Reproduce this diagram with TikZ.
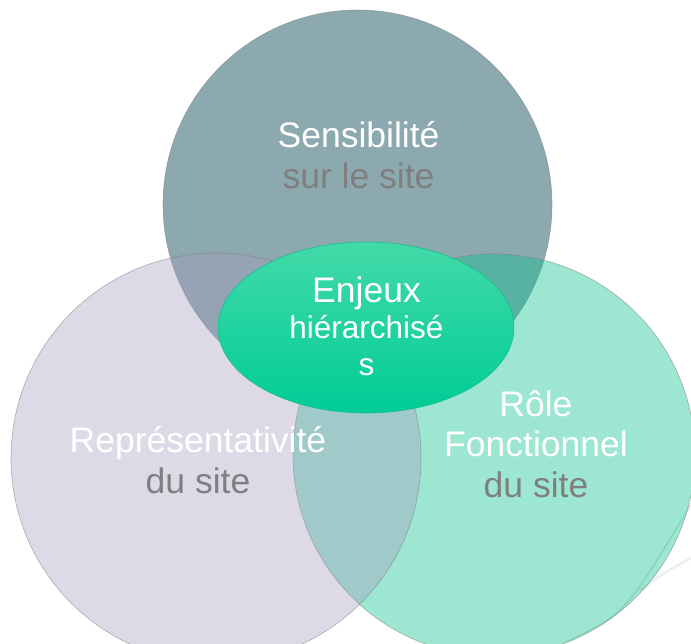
\documentclass[tikz,border=0pt]{standalone}
\usepackage{fontspec}
\setmainfont{Liberation Sans}
\usepackage{tikz}
\usetikzlibrary{shapes.geometric}

\definecolor{sensfill}{RGB}{140,169,175}
\definecolor{reprfill}{RGB}{168,155,189}
\definecolor{rolefill}{RGB}{8,192,142}
\definecolor{enjtop}{RGB}{66,218,168}
\definecolor{enjbot}{RGB}{0,204,150}
\definecolor{enjline}{RGB}{24,190,145}
\definecolor{subgray}{RGB}{127,127,127}

\tikzset{
    bigcircle/.style={circle, inner sep=0pt, minimum size=#1, draw=gray, draw opacity=0.6, line width=0.6pt},
    bigtext/.style={align=center, inner sep=0pt, text=white, font=\fontsize{35.5}{40.5}\selectfont},
}

\begin{document}
\begin{tikzpicture}[x=1pt, y=-1pt]
    \useasboundingbox (0,0) rectangle (691,644);

    % faint background streaks
    \draw[gray, opacity=0.12, line width=3pt] (640,590) .. controls (662,574) .. (691,558);
    \draw[black, opacity=0.12, line width=1.5pt] (693,501) .. controls (625,614) .. (566,642);

    \node[bigcircle=389pt, fill=sensfill] (sens) at (357.5,204.5) {};
    \node[bigcircle=402pt, fill=rolefill, fill opacity=0.4] (role) at (494,455) {};
    \node[bigcircle=410pt, fill=reprfill, fill opacity=0.375] (repr) at (216,458) {};

    \node[ellipse, inner sep=0pt, minimum width=296pt, minimum height=171pt,
          top color=enjtop, bottom color=enjbot, draw=enjline, line width=0.6pt] (enj) at (366,327.5) {};

    \node[bigtext] (sensT) at (358.5,155) {Sensibilité\\\textcolor{subgray}{sur le site}};
    \node[bigtext] (reprT) at (198,460) {Représentativité\\\textcolor{subgray}{du site}};
    \node[bigtext] (roleT) at (536,444) {Rôle\\Fonctionnel\\\textcolor{subgray}{du site}};
    \node[align=center, inner sep=0pt, text=white, font=\fontsize{31.5}{36.5}\selectfont] (enjT) at (366.5,326)
        {{\fontsize{35.5}{36.5}\selectfont Enjeux}\\hiérarchisé\\s};
\end{tikzpicture}
\end{document}
